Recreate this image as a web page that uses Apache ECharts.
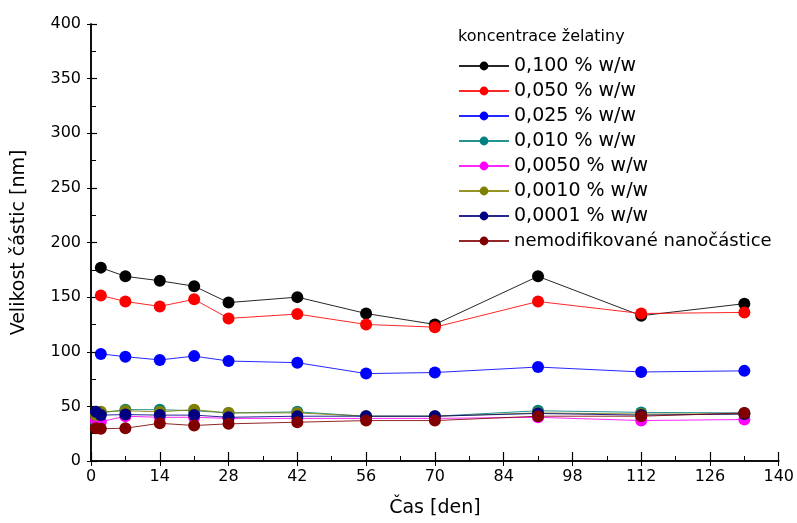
<!DOCTYPE html>
<html><head><meta charset="utf-8">
<script src="https://cdn.jsdelivr.net/npm/echarts@6/dist/echarts.min.js"></script>
<style>html,body{margin:0;padding:0;background:#fff}#c{width:797px;height:523px}</style>
</head><body><div id="c"></div>
<script>
const daysA = [2, 7, 14, 21, 28, 42, 56, 70, 91, 112, 133];
const daysB = [1, 2, 7, 14, 21, 28, 42, 56, 70, 91, 112, 133];
const xTicks = [0, 14, 28, 42, 56, 70, 84, 98, 112, 126, 140];
const yTicks = [0, 50, 100, 150, 200, 250, 300, 350, 400];
const names = ['0,100 % w/w', '0,050 % w/w', '0,025 % w/w', '0,010 % w/w', '0,0050 % w/w', '0,0010 % w/w', '0,0001 % w/w', 'nemodifikované nanočástice'];
const colors = ['#000000', '#ff0000', '#0000ff', '#008080', '#ff00ff', '#808000', '#000080', '#800000'];
const v100 = [177, 169, 165, 160, 145, 150, 135, 125, 169, 133, 144];
const v050 = [151.5, 146, 141.5, 148, 130.5, 134.5, 125, 122.5, 146, 135, 136];
const v025 = [98, 95.5, 92.5, 96, 91.5, 90, 80, 81, 86, 81.5, 82.5];
const v010 = [36, 44, 47, 47, 46, 44, 45, 41, 41, 46, 44.5, 44];
const v0050 = [37, 36, 41, 40, 40, 39, 39, 39, 39, 40, 37, 38];
const v0010 = [42, 45, 46, 45, 47, 44, 44, 41, 41, 44, 43, 43];
const v0001 = [45, 42, 42.5, 42, 42, 40, 41, 41, 41, 43.5, 42, 43];
const vNano = [30, 29.5, 30, 34.5, 32.5, 34, 35.5, 37, 37, 41, 41, 44];

const seriesVals = [v100, v050, v025, v010, v0050, v0010, v0001, vNano];
const seriesDays = [daysA, daysA, daysA, daysB, daysB, daysB, daysB, daysB];

const chart = echarts.init(document.getElementById('c'));
const font = 'DejaVu Sans';
const order = [3, 4, 5, 7, 6, 2, 1, 0];
const blankAxis = {
  min: 0, splitLine: {show: false}, axisLabel: {show: false},
  axisLine: {lineStyle: {color: '#000', width: 1.5}}
};
chart.setOption({
  animation: false,
  grid: {left: 91, right: 18, top: 24, bottom: 55},
  legend: {
    orient: 'vertical', left: 453, top: 51, itemWidth: 50, itemHeight: 11, itemGap: 5,
    textStyle: {fontFamily: font, fontSize: 19, lineHeight: 20, color: '#000'},
    data: names.map((n, i) => i === 7 ? {name: n, textStyle: {fontSize: 18}} : {name: n})
  },
  graphic: [{type: 'text', left: 458, top: 29, style: {text: 'koncentrace želatiny', font: '16px ' + font, fill: '#000'}}],
  xAxis: [{
    type: 'value', min: 0, max: 140, interval: 14,
    name: 'Čas [den]', nameLocation: 'middle', nameGap: 38,
    nameTextStyle: {fontFamily: font, fontSize: 19, color: '#000'},
    axisLine: {lineStyle: {color: '#000', width: 1.5}},
    axisTick: {inside: true, length: 9, lineStyle: {color: '#000', width: 1.2}},
    minorTick: {show: true, splitNumber: 2, length: 5, lineStyle: {color: '#000', width: 1}},
    axisLabel: {fontFamily: font, fontSize: 16, color: '#000', margin: 8,
      formatter: v => xTicks.includes(v) ? String(v) : ''},
    splitLine: {show: false}
  }, Object.assign({}, blankAxis, {
    type: 'value', position: 'top', max: 140, interval: 14,
    axisTick: {inside: true, length: 5, lineStyle: {color: '#000', width: 1}}
  })],
  yAxis: [{
    type: 'value', min: 0, max: 400, interval: 50,
    name: 'Velikost částic [nm]', nameLocation: 'middle', nameGap: 62,
    nameTextStyle: {fontFamily: font, fontSize: 19, color: '#000'},
    axisLine: {lineStyle: {color: '#000', width: 1.5}},
    axisTick: {inside: true, length: 6, lineStyle: {color: '#000', width: 1.2}},
    minorTick: {show: true, splitNumber: 2, length: 5, lineStyle: {color: '#000', width: 1}},
    axisLabel: {fontFamily: font, fontSize: 16, color: '#000', margin: 10,
      formatter: v => yTicks.includes(v) ? String(v) : ''},
    splitLine: {show: false}
  }, Object.assign({}, blankAxis, {
    type: 'value', position: 'right', max: 400, interval: 50,
    axisTick: {inside: true, length: 4, lineStyle: {color: '#000', width: 1}}
  })],
  series: order.map(i => ({
    name: names[i], type: 'line', clip: false, z: 2 + i,
    symbol: 'circle', symbolSize: 12,
    itemStyle: {color: colors[i]},
    lineStyle: {color: colors[i], width: 1, opacity: 0.85},
    data: seriesDays[i].map((d, k) => [d, seriesVals[i][k]])
  }))
});
</script></body></html>
